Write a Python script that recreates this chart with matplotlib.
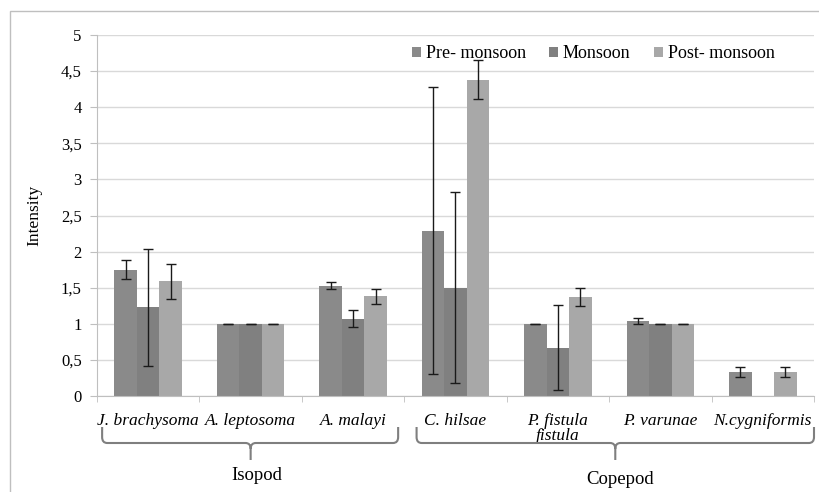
import matplotlib
matplotlib.use("Agg")
import matplotlib.pyplot as plt
import numpy as np
from matplotlib.path import Path
from matplotlib.patches import PathPatch, Rectangle
from matplotlib.transforms import blended_transform_factory

categories = ["J. brachysoma", "A. leptosoma", "A. malayi", "C. hilsae",
              "P. fistula\nfistula", "P. varunae", "N.cygniformis"]
series_names = ["Pre- monsoon", "Monsoon", "Post- monsoon"]
pre = [1.75, 1.0, 1.53, 2.29, 1.0, 1.04, 0.33]
pre_err = [0.13, 0.0, 0.05, 1.99, 0.0, 0.04, 0.07]
mon = [1.23, 1.0, 1.07, 1.5, 0.67, 1.0, 0.0]
mon_err = [0.81, 0.0, 0.12, 1.32, 0.59, 0.0, np.nan]
post = [1.59, 1.0, 1.38, 4.38, 1.37, 1.0, 0.33]
post_err = [0.24, 0.0, 0.1, 0.27, 0.12, 0.0, 0.07]
yticks = [0, 0.5, 1, 1.5, 2, 2.5, 3, 3.5, 4, 4.5, 5]
ytick_labels = ["0", "0,5", "1", "1,5", "2", "2,5", "3", "3,5", "4", "4,5", "5"]
group_names = ["Isopod", "Copepod"]

colors = ["#8a8a8a", "#808080", "#a8a8a8"]
FAM = ['Liberation Serif', 'DejaVu Serif']
plt.rcParams['font.family'] = FAM

fig = plt.figure(figsize=(8.19, 4.92), dpi=100)
ax = fig.add_axes([97/819, 1-396/492, (814-97)/819, (396-35)/492])

x = np.arange(len(categories))
w = 0.22
for i, (vals, errs) in enumerate([(pre, pre_err), (mon, mon_err), (post, post_err)]):
    pos = x + (i - 1) * w
    ax.bar(pos, vals, width=w, color=colors[i], label=series_names[i], zorder=2)
    ax.errorbar(pos, vals, yerr=errs, fmt='none', ecolor='#1a1a1a',
                elinewidth=1.0, capsize=3.5, capthick=1.0, zorder=3)

ax.set_xlim(-0.5, len(categories) - 0.5)
ax.set_ylim(0, 5)
ax.set_yticks(yticks)
ax.set_yticklabels(ytick_labels, fontsize=12, family=FAM)
ax.yaxis.grid(True, color='#d9d9d9', linewidth=1.0, zorder=0)
ax.set_axisbelow(True)
for s in ['top', 'right']:
    ax.spines[s].set_visible(False)
ax.spines['left'].set_color('#bfbfbf')
ax.spines['bottom'].set_color('#bfbfbf')
ax.tick_params(axis='y', length=5, color='#bfbfbf', pad=6)
ax.set_xticks(x)
ax.set_xticklabels(categories, fontsize=12.5, style='italic', family=FAM)
ax.tick_params(axis='x', length=0, pad=12)
ax.set_xticks(np.arange(len(categories) + 1) - 0.5, minor=True)
ax.tick_params(axis='x', which='minor', length=4, color='#bfbfbf')
for lbl in ax.get_xticklabels():
    lbl.set_linespacing(0.95)
ax.set_ylabel("Intensity", fontsize=12.5, labelpad=13, family=FAM)

leg = ax.legend(loc='upper left', bbox_to_anchor=((396-97)/717, 1.0 + 6/361),
                ncol=3, frameon=False, prop={'family': FAM, 'size': 13},
                handlelength=0.5, handleheight=0.5, columnspacing=1.3,
                handletextpad=0.25)

# braces
trans = blended_transform_factory(ax.transData, fig.transFigure)
def brace(x0, x1, xm):
    yt = 1 - 427/492
    yb = 1 - 443/492
    ytip = 1 - 460/492
    rx = 0.05
    ry = 0.012
    verts = [(x0, yt), (x0, yb + ry), (x0, yb), (x0 + rx, yb),
             (xm - rx, yb), (xm, yb), (xm, yb - ry), (xm, ytip),
             (xm, yb - ry), (xm, yb), (xm + rx, yb),
             (x1 - rx, yb), (x1, yb), (x1, yb + ry), (x1, yt)]
    codes = [Path.MOVETO, Path.LINETO, Path.CURVE3, Path.CURVE3,
             Path.LINETO, Path.CURVE3, Path.CURVE3, Path.LINETO,
             Path.MOVETO, Path.CURVE3, Path.CURVE3,
             Path.LINETO, Path.CURVE3, Path.CURVE3, Path.LINETO]
    p = PathPatch(Path(verts, codes), transform=trans, fill=False,
                  edgecolor='#7f7f7f', linewidth=1.5, clip_on=False)
    fig.add_artist(p)

brace(-0.45, 2.44, 1.0)
brace(2.62, 6.50, 4.56)
fig.text(257/819, 1 - 476/492, group_names[0], ha='center', va='center', fontsize=13.5, family=FAM)
fig.text(620/819, 1 - 479/492, group_names[1], ha='center', va='center', fontsize=13.5, family=FAM)

# outer frame
fig.add_artist(Rectangle((10/819, -0.1), 1.2, 1 - 11/492 + 0.1, transform=fig.transFigure,
                         fill=False, edgecolor='#bfbfbf', linewidth=1.0))

fig.savefig("out.png", dpi=100)
